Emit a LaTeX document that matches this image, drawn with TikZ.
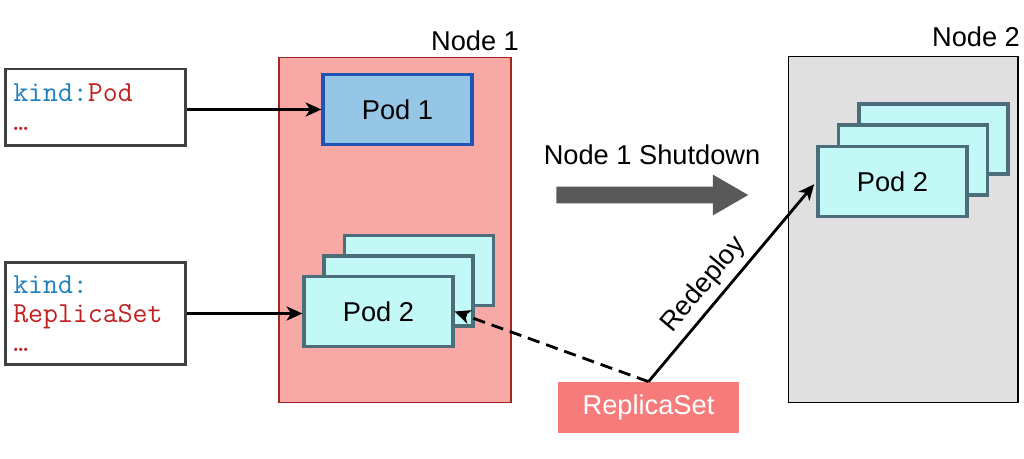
\documentclass[tikz,border=0pt]{standalone}
\usepackage{fontspec}
\setmainfont{Liberation Sans}
\usetikzlibrary{arrows.meta, positioning, shapes.arrows}
\definecolor{kindblue}{RGB}{31,128,190}
\definecolor{kindred}{RGB}{192,32,32}
\definecolor{nodeonefill}{RGB}{248,169,165}
\definecolor{nodeoneline}{RGB}{160,40,30}
\definecolor{podonefill}{RGB}{149,198,230}
\definecolor{podoneline}{RGB}{30,85,180}
\definecolor{podtwofill}{RGB}{194,248,245}
\definecolor{podtwoline}{RGB}{75,110,122}
\definecolor{nodetwofill}{RGB}{224,224,224}
\definecolor{shutgray}{RGB}{89,89,89}
\definecolor{rsfill}{RGB}{248,123,123}

\begin{document}
\begin{tikzpicture}[x=0.02cm, y=-0.02cm,
    every node/.style={font=\fontsize{15.5}{18}\selectfont},
    spec/.style={draw=black!75, line width=1.7pt, fill=white, align=left,
      inner xsep=4.5pt, text width=93.6pt,
      font=\ttfamily\fontsize{16.5}{16.5}\selectfont},
    host/.style={line width=0.6pt, minimum width=4.64cm, minimum height=6.92cm, inner sep=0pt},
    pod/.style={draw=podtwoline, fill=podtwofill, line width=1.8pt,
      minimum width=2.98cm, minimum height=1.4cm, inner sep=0pt},
    link/.style={line width=1.6pt, -{Stealth[length=9pt,width=8pt,inset=2.5pt]}}]
  \useasboundingbox (0,0) rectangle (1024,459);
  % manifests
  \node[spec, minimum height=1.54cm] (kpod) at (95.5,107.5)
    {\textcolor{kindblue}{kind:}\textcolor{kindred}{Pod}\\\textcolor{kindred}{…}};
  \node[spec, minimum height=2.06cm] (krs) at (95.5,313.5)
    {\textcolor{kindblue}{kind:}\\\textcolor{kindred}{ReplicaSet}\\\textcolor{kindred}{…}};
  % worker nodes
  \node[host, draw=nodeoneline, fill=nodeonefill] (n1) at (395,230) {};
  \node (n1lbl) at (475,41) {Node 1};
  \node[host, draw=black, fill=nodetwofill, minimum width=4.6cm, minimum height=6.94cm] (n2) at (903,229.5) {};
  \node (n2lbl) at (976,37) {Node 2};
  % pods on node 1
  \node[pod, draw=podoneline, fill=podonefill] (p1) at (397.5,109.5) {Pod 1};
  \node[pod] (p2c) at (419,270.5) {};
  \node[pod] (p2b) at (398.5,291) {};
  \node[pod] (p2a) at (378.5,311.5) {Pod 2};
  % pods on node 2
  \node[pod] (q2c) at (933.5,139) {};
  \node[pod] (q2b) at (913,160) {};
  \node[pod] (q2a) at (892.5,181.5) {Pod 2};
  % shutdown arrow
  \node[single arrow, fill=shutgray, minimum height=3.84cm, inner xsep=0pt, inner ysep=0.16cm,
    single arrow head extend=0.24cm, single arrow tip angle=60] (shut) at (645,195) {};
  \node[above=9pt of shut, xshift=0.14cm] (shutlbl) {Node 1 Shutdown};
  % replica set controller
  \node[fill=rsfill, text=white, minimum width=3.62cm, minimum height=1.02cm] (rs) at (648.5,407.5) {ReplicaSet};
  % links
  \draw[link] (kpod.east |- p1.west) -- (p1.west);
  \draw[link] (krs.east) -- (krs.east -| p2a.west);
  \draw[link, dash pattern=on 7pt off 4pt] (rs.north) -- (p2a.east);
  \draw[link, shorten >=2pt] (rs.north) -- node[sloped, above, pos=0.42] (redeploy) {Redeploy} (q2a.west);
\end{tikzpicture}
\end{document}
